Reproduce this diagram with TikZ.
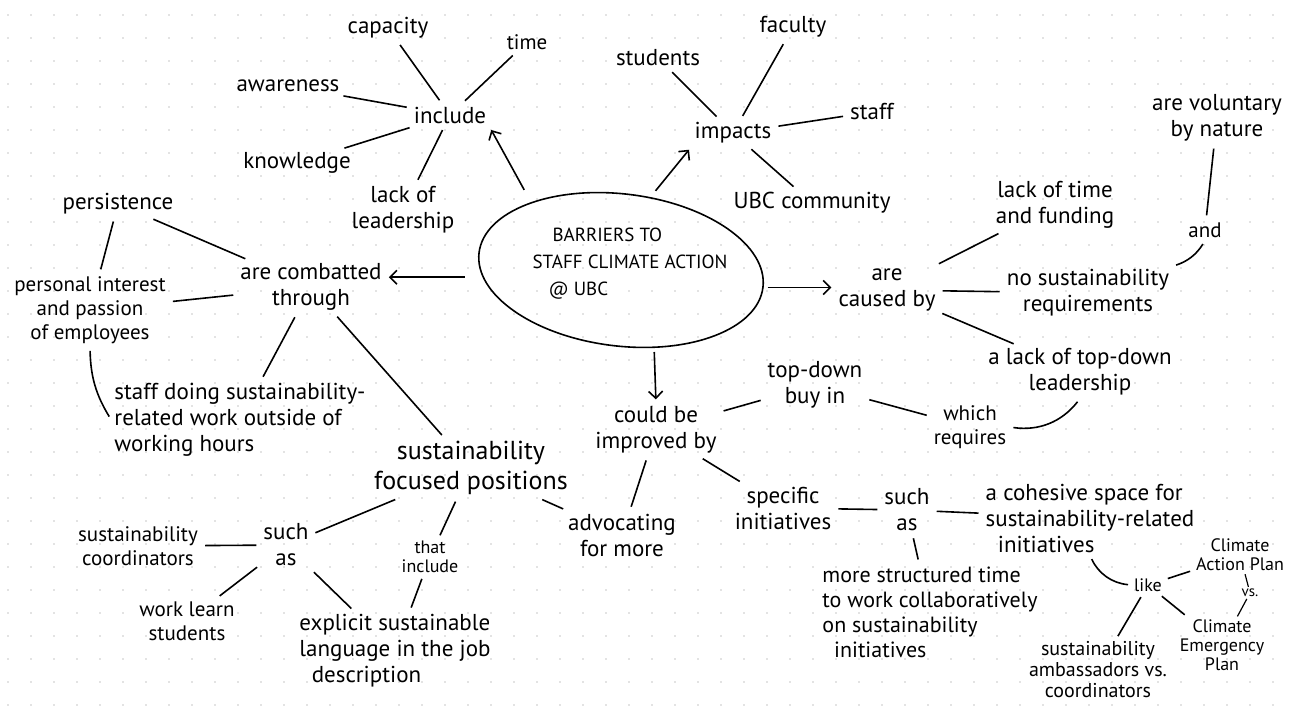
\documentclass[tikz,border=0pt]{standalone}
\usepackage{fontspec}
\setmainfont{PT Sans}
\usetikzlibrary{shapes.geometric,arrows.meta}

\begin{document}
\begin{tikzpicture}[x=1pt,y=-1pt]
    \tikzstyle{every node}=[font=\fontsize{23}{26}\selectfont,align=center,inner sep=3pt]
    \tikzstyle{mid}=[font=\fontsize{21}{24}\selectfont]
    \tikzstyle{tiny}=[font=\fontsize{18}{19}\selectfont,inner sep=2pt]
    \tikzstyle{big}=[font=\fontsize{26}{30}\selectfont]
    \tikzstyle{link}=[line width=1.6pt,shorten <=4pt,shorten >=4pt]
    \tikzstyle{arr}=[link,-{Straight Barb[length=7pt,width=14pt]}]
    \useasboundingbox (0,0) rectangle (1292,706);
    % dotted paper
    \foreach \x in {8,31,...,1292}
      \foreach \y in {15,38,...,706}
        \fill[black!22] (\x,\y) circle (0.9pt);

    % centre
    \node[draw,ellipse,line width=1.6pt,minimum width=286pt,minimum height=152pt,rotate=-7] (main) at (621,270) {};
    \node[font=\fontsize{19}{27}\selectfont,align=left] (title) at (630,264)
      {\hspace*{20pt}BARRIERS TO\\STAFF CLIMATE ACTION\\\hspace*{16pt}@ UBC};

    % include
    \node (include) at (450,115) {include};
    \node (capacity) at (388,28) {capacity};
    \node[mid] (time) at (527,42) {time};
    \node (awareness) at (288,86) {awareness};
    \node (knowledge) at (297,163) {knowledge};
    \node (lackled) at (403,210) {lack of\\leadership};

    % impacts
    \node (impacts) at (733,133) {impacts};
    \node (students) at (658,58) {students};
    \node (faculty) at (793,27) {faculty};
    \node (staff) at (872,112) {staff};
    \node (ubc) at (812,203) {UBC community};

    % are combatted through
    \node (combat) at (311,287) {are combatted\\through};
    \node (persist) at (118,204) {persistence};
    \node[mid] (personal) at (90,310) {personal interest\\and passion\\of employees};
    \node[align=left] (outside) at (240,420) {staff doing sustainability-\\related work outside of\\working hours};
    \node[big] (positions) at (471,468) {sustainability\\focused positions};
    \node (suchL) at (286,545) {such\\as};
    \node[mid] (coord) at (138,546) {sustainability\\coordinators};
    \node[mid] (worklearn) at (187,621) {work learn\\students};
    \node[tiny] (thatinc) at (430,557) {that\\include};
    \node[align=left] (explicit) at (395,651) {explicit sustainable\\language in the job\\\ \ description};
    \node (advocate) at (622,535) {advocating\\for more};

    % are caused by
    \node (caused) at (887,290) {are\\caused by};
    \node (lacktime) at (1055,205) {lack of time\\and funding};
    \node (noreq) at (1088,293) {no sustainability\\requirements};
    \node[mid] (and) at (1205,230) {and};
    \node (voluntary) at (1217,118) {are voluntary\\by nature};
    \node (lacktop) at (1080,372) {a lack of top-down\\leadership};
    \node[mid] (which) at (970,427) {which\\requires};

    % could be improved by
    \node (improved) at (656,430) {could be\\improved by};
    \node (buyin) at (815,385) {top-down\\buy in};
    \node (specific) at (783,508) {specific\\initiatives};
    \node (suchR) at (907,510) {such\\as};
    \node[font=\fontsize{22}{25}\selectfont,align=left] (structured) at (930,612) {more structured time\\to work collaboratively\\on sustainability\\\ \ initiatives};
    \node[align=left] (cohesive) at (1090,518) {a cohesive space for\\sustainability-related\\\ \ initiatives};
    \node[tiny] (like) at (1148,585) {like};
    \node[tiny] (cap) at (1240,555) {Climate\\Action Plan};
    \node[font=\fontsize{15}{16}\selectfont,inner sep=1pt] (vs) at (1250,593) {vs.};
    \node[tiny] (cep) at (1222,645) {Climate\\Emergency\\Plan};
    \node[font=\fontsize{20}{21}\selectfont,inner sep=2pt] (ambass) at (1098,670) {sustainability\\ambassadors vs.\\coordinators};

    % arrows out of the centre
    \draw[arr,shorten <=14pt] (main.150) -- (include.south east);
    \draw[arr,shorten <=8pt] (main.75) -- (impacts.south west);
    \draw[arr,shorten <=18pt] (main.190) -- (main.190 -| combat.east);
    \draw[arr,shorten <=4pt] (main.east) -- (main.east -| caused.west);
    \draw[arr] (main.300) -- (improved.north);

    % links
    \draw[link] (include) -- (capacity);
    \draw[link] (include) -- (time);
    \draw[link] (include) -- (awareness);
    \draw[link] (include) -- (knowledge);
    \draw[link] (include) -- (lackled);
    \draw[link] (impacts) -- (students);
    \draw[link] (impacts) -- (faculty);
    \draw[link] (impacts) -- (staff);
    \draw[link] (impacts) -- (ubc);
    \draw[link] (combat) -- (persist);
    \draw[link] (combat) -- (personal);
    \draw[link] (combat) -- (outside);
    \draw[link] (combat) -- (positions);
    \draw[link] (persist) -- (personal);
    \draw[link] (personal.south) to[bend right=15] (outside.west);
    \draw[link] (positions) -- (suchL);
    \draw[link] (positions) -- (thatinc);
    \draw[link] (positions) -- (advocate);
    \draw[link] (suchL) -- (coord);
    \draw[link] (suchL) -- (worklearn);
    \draw[link] (suchL) -- (explicit);
    \draw[link] (thatinc) -- (explicit);
    \draw[link] (caused) -- (lacktime);
    \draw[link] (caused) -- (noreq);
    \draw[link] (caused) -- (lacktop);
    \draw[link] (noreq.north east) to[bend right=20] (and.south);
    \draw[link] (and) -- (voluntary);
    \draw[link] (which.east) to[bend right=30] (lacktop.south);
    \draw[link] (which) -- (buyin);
    \draw[link] (improved) -- (buyin);
    \draw[link] (improved) -- (advocate);
    \draw[link] (improved) -- (specific);
    \draw[link] (specific) -- (suchR);
    \draw[link] (suchR) -- (cohesive);
    \draw[link] (suchR) -- (structured);
    \draw[link] (cohesive.south) to[bend right=30] (like.west);
    \draw[link] (like) -- (cap);
    \draw[link] (like) -- (cep);
    \draw[link] (like) -- (ambass);
    \draw[link,line width=1.2pt,shorten <=1pt,shorten >=1pt] (cap) -- (vs);
    \draw[link,line width=1.2pt,shorten <=1pt,shorten >=1pt] (vs) -- (cep);
\end{tikzpicture}
\end{document}
